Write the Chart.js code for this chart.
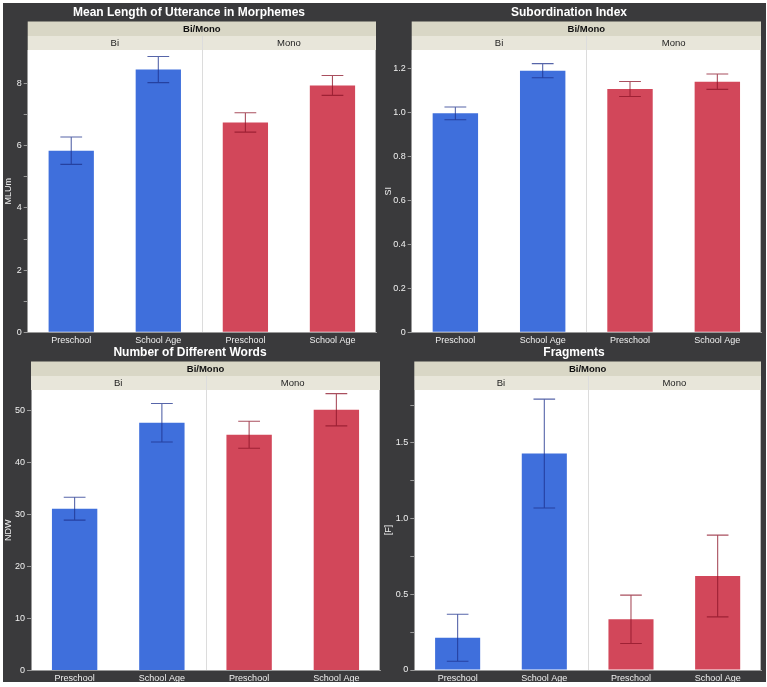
<!DOCTYPE html>
<html>
<head>
<meta charset="utf-8">
<script src="https://cdn.jsdelivr.net/npm/chart.js@4.4.1/dist/chart.umd.min.js"></script>
<style>
  html, body { margin: 0; padding: 0; background: #ffffff; }
  #board { position: absolute; left: 3px; top: 3px; width: 763px; height: 679px; background: #3a3a3c; }
  canvas { position: absolute; }
</style>
</head>
<body>
<div id="board"></div>
<canvas id="mlu" width="380" height="342" style="left:3px;top:3px"></canvas>
<canvas id="si" width="383" height="342" style="left:383px;top:3px"></canvas>
<canvas id="ndw" width="380" height="337" style="left:3px;top:345px"></canvas>
<canvas id="frag" width="383" height="337" style="left:383px;top:345px"></canvas>
<script>
// categories along the x axis (Bi: first two, Mono: last two)
const groups = ["Preschool", "School Age", "Preschool", "School Age"];
const langGroups = ["Bi", "Mono"];

// means and error half-widths
const mluMeans = [5.84, 8.45, 6.75, 7.94];
const mluErr = [0.44, 0.42, 0.31, 0.32];
const siMeans = [0.995, 1.189, 1.106, 1.139];
const siErr = [0.029, 0.032, 0.034, 0.035];
const ndwMeans = [31.1, 47.6, 45.3, 50.1];
const ndwErr = [2.2, 3.7, 2.6, 3.1];
const fragMeans = [0.213, 1.43, 0.335, 0.621];
const fragErr = [0.155, 0.36, 0.16, 0.27];

const barColors = ["#3f6fdc", "#3f6fdc", "#d2475a", "#d2475a"];
const errColors = ["rgba(30,50,140,0.75)", "rgba(30,50,140,0.75)", "rgba(140,20,40,0.75)", "rgba(140,20,40,0.75)"];

Chart.defaults.font.family = "'Liberation Sans', Arial, sans-serif";
Chart.defaults.color = "#e8e8e8";

// title + JMP style header bands
const headerPlugin = {
  id: "headers",
  beforeDraw(chart, args, opts) {
    const { ctx, chartArea: a } = chart;
    const mid = (a.left + a.right) / 2;
    ctx.save();
    ctx.fillStyle = "#ffffff";
    ctx.font = "bold 12px 'Liberation Sans', Arial, sans-serif";
    ctx.textAlign = "center";
    ctx.textBaseline = "middle";
    ctx.fillText(opts.title, opts.titleX, opts.titleY);

    const b1 = a.top - 28.5, b2 = a.top - 14;
    ctx.fillStyle = "#d9d7c6";
    ctx.fillRect(a.left, b1, a.right - a.left, b2 - b1);
    ctx.fillStyle = "#e8e6da";
    ctx.fillRect(a.left, b2, a.right - a.left, a.top - b2);
    ctx.fillStyle = "#ffffff";
    ctx.fillRect(a.left, a.top, a.right - a.left, a.bottom - a.top);

    ctx.fillStyle = "#111111";
    ctx.font = "bold 9.5px 'Liberation Sans', Arial, sans-serif";
    ctx.fillText("Bi/Mono", mid, (b1 + b2) / 2 + 0.5);
    ctx.font = "9.5px 'Liberation Sans', Arial, sans-serif";
    ctx.fillStyle = "#222222";
    ctx.fillText(langGroups[0], (a.left + mid) / 2, (b2 + a.top) / 2 + 0.5);
    ctx.fillText(langGroups[1], (mid + a.right) / 2, (b2 + a.top) / 2 + 0.5);

    ctx.strokeStyle = "#dcdcdc";
    ctx.lineWidth = 1;
    ctx.beginPath();
    ctx.moveTo(Math.round(mid) + 0.5, b2);
    ctx.lineTo(Math.round(mid) + 0.5, a.bottom);
    ctx.stroke();
    ctx.restore();
  },
  afterDraw(chart) {
    const { ctx, chartArea: a } = chart;
    ctx.save();
    ctx.strokeStyle = "#b8b8b8";
    ctx.lineWidth = 1;
    ctx.beginPath();
    ctx.moveTo(Math.round(a.right) - 0.5, a.top);
    ctx.lineTo(Math.round(a.right) - 0.5, a.bottom);
    ctx.stroke();
    ctx.restore();
  }
};

// error bars drawn from the y scale
const errorBarPlugin = {
  id: "errorBars",
  afterDatasetsDraw(chart, args, opts) {
    const { ctx } = chart;
    const y = chart.scales.y;
    const meta = chart.getDatasetMeta(0);
    ctx.save();
    ctx.lineWidth = 1.1;
    meta.data.forEach((bar, i) => {
      const m = opts.means[i], e = opts.errs[i];
      const yTop = y.getPixelForValue(m + e);
      const yBot = y.getPixelForValue(m - e);
      const half = bar.width * 0.24;
      ctx.strokeStyle = errColors[i];
      ctx.beginPath();
      ctx.moveTo(bar.x, yTop);
      ctx.lineTo(bar.x, yBot);
      ctx.moveTo(bar.x - half, yTop);
      ctx.lineTo(bar.x + half, yTop);
      ctx.moveTo(bar.x - half, yBot);
      ctx.lineTo(bar.x + half, yBot);
      ctx.stroke();
    });
    ctx.restore();
  }
};

function makePanel(id, cfg) {
  const canvas = document.getElementById(id);
  const w = canvas.width, h = canvas.height;
  const area = cfg.area;
  new Chart(canvas, {
    type: "bar",
    data: {
      labels: groups,
      datasets: [{
        data: cfg.means,
        backgroundColor: barColors,
        borderWidth: 0,
        barPercentage: 0.52,
        categoryPercentage: 1.0
      }]
    },
    options: {
      responsive: false,
      animation: false,
      devicePixelRatio: 1,
      layout: { padding: { top: area.top, right: w - area.right, left: 0, bottom: 0 } },
      plugins: {
        legend: { display: false },
        tooltip: { enabled: false },
        headers: { title: cfg.title, titleX: cfg.titleX, titleY: cfg.titleY },
        errorBars: { means: cfg.means, errs: cfg.errs }
      },
      scales: {
        x: {
          grid: { display: false, drawTicks: false },
          border: { display: true, color: "#9a9a9a" },
          ticks: { color: "#f0f0f0", font: { size: 9 }, padding: 3, maxRotation: 0 },
          afterFit(scale) { scale.height = h - area.bottom; }
        },
        y: {
          min: 0,
          max: cfg.max,
          grid: { drawOnChartArea: false, tickLength: 4, color: "#9a9a9a" },
          border: { display: true, color: "#9a9a9a" },
          title: { display: true, text: cfg.yTitle, color: "#f0f0f0", font: { size: 9 }, padding: 0 },
          ticks: {
            stepSize: cfg.step,
            color: "#f0f0f0",
            font: { size: 9 },
            padding: 2,
            callback: cfg.label
          },
          afterBuildTicks(scale) {
            scale.ticks = scale.ticks.filter(t => Math.abs(t.value / cfg.step - Math.round(t.value / cfg.step)) < 1e-6);
          },
          afterFit(scale) { scale.width = area.left; }
        }
      }
    },
    plugins: [headerPlugin, errorBarPlugin]
  });
}

function onMultiple(v, k) {
  return Math.abs(v / k - Math.round(v / k)) < 1e-6;
}

makePanel("mlu", {
  title: "Mean Length of Utterance in Morphemes", titleX: 186, titleY: 10, yTitle: "MLUm",
  means: mluMeans, errs: mluErr, max: 9.08, step: 1,
  label: v => onMultiple(v, 2) ? String(v) : "",
  area: { left: 24.7, right: 373, top: 47, bottom: 329.3 }
});
makePanel("si", {
  title: "Subordination Index", titleX: 186, titleY: 10, yTitle: "SI",
  means: siMeans, errs: siErr, max: 1.283, step: 0.2,
  label: v => v === 0 ? "0" : v.toFixed(1),
  area: { left: 28.7, right: 378, top: 47, bottom: 329.3 }
});
makePanel("ndw", {
  title: "Number of Different Words", titleX: 187, titleY: 8, yTitle: "NDW",
  means: ndwMeans, errs: ndwErr, max: 53.9, step: 10,
  label: v => String(v),
  area: { left: 28, right: 377, top: 45, bottom: 325.5 }
});
makePanel("frag", {
  title: "Fragments", titleX: 191, titleY: 8, yTitle: "[F]",
  means: fragMeans, errs: fragErr, max: 1.85, step: 0.25,
  label: v => onMultiple(v, 0.5) ? (v === 0 ? "0" : v.toFixed(1)) : "",
  area: { left: 31.3, right: 378, top: 45, bottom: 325 }
});
</script>
</body>
</html>
